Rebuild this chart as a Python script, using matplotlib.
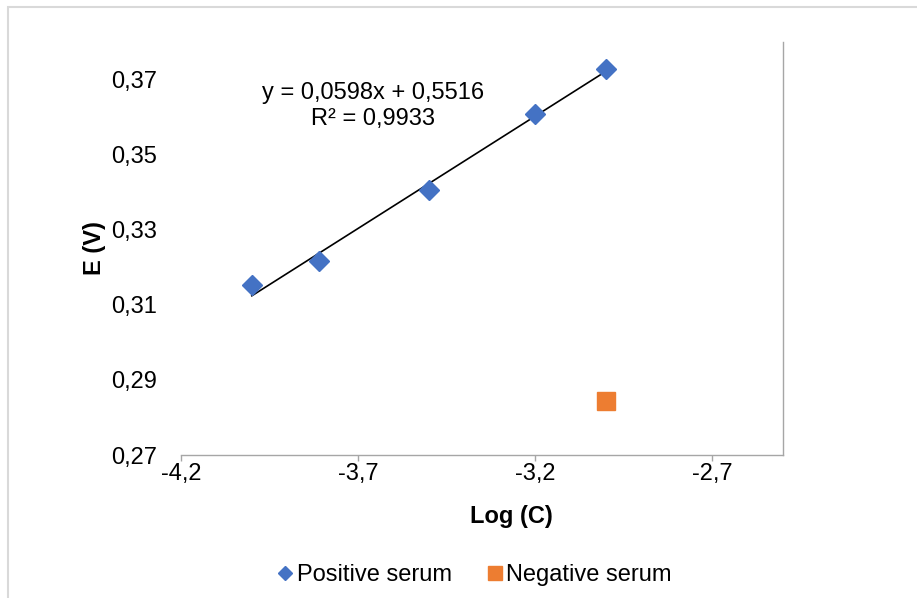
import numpy as np
import matplotlib
matplotlib.use('Agg')
import matplotlib.pyplot as plt
from matplotlib.patches import Rectangle
from matplotlib.ticker import FuncFormatter

plt.rcParams['font.family'] = ['Liberation Sans', 'DejaVu Sans']

# data
pos_logc = [-4.0, -3.81, -3.5, -3.2, -3.0]
pos_e = [0.3153, 0.3217, 0.3407, 0.3609, 0.3727]
neg_logc = [-3.0]
neg_e = [0.2843]

# trendline as printed on the chart
slope = 0.0598
intercept = 0.5516
r2 = 0.9933

xticks = [-4.2, -3.7, -3.2, -2.7]
yticks = [0.27, 0.29, 0.31, 0.33, 0.35, 0.37]

blue = '#4472C4'
orange = '#ED7D31'
fs = 17

fig = plt.figure(figsize=(9.17, 5.98), dpi=100)
ax = fig.add_axes([181/917, 1-455/598, (783-181)/917, (455-42)/598])

# outer chart border (light grey)
fig.add_artist(Rectangle((8/917, -0.05), 1.2, 1.05 - 7/598, transform=fig.transFigure,
                         fill=False, edgecolor='#d9d9d9', lw=1.5))

ax.plot(pos_logc, pos_e, ls='none', marker='D', ms=10, color=blue, label='Positive serum', zorder=3)
ax.plot(neg_logc, neg_e, ls='none', marker='s', ms=13, color=orange, label='Negative serum', zorder=3)

xfit = np.array([min(pos_logc), max(pos_logc)])
ax.plot(xfit, slope*xfit + intercept, color='black', lw=1.2, zorder=2)

eq = f'y = {slope:.4f}x + {intercept:.4f}'.replace('.', ',')
r2txt = f'R² = {r2:.4f}'.replace('.', ',')
ax.text(0.319, 0.845, eq + '\n' + r2txt, transform=ax.transAxes,
        ha='center', va='center', fontsize=fs, linespacing=1.25)

ax.set_xlim(-4.2, -2.5)
ax.set_ylim(0.27, 0.38)
ax.set_xticks(xticks)
ax.set_yticks(yticks)
ax.xaxis.set_major_formatter(FuncFormatter(lambda v, p: f'{v:.1f}'.replace('.', ',')))
ax.yaxis.set_major_formatter(FuncFormatter(lambda v, p: f'{v:.2f}'.replace('.', ',')))
ax.tick_params(axis='x', length=4.5, width=1, color='#a6a6a6', labelsize=fs, pad=1)
ax.tick_params(axis='y', length=0, labelsize=fs, pad=17)

for s in ['left', 'top']:
    ax.spines[s].set_visible(False)
ax.spines['bottom'].set_color('#a6a6a6')
ax.spines['right'].set_color('#a6a6a6')
ax.spines['bottom'].set_linewidth(1)
ax.spines['right'].set_linewidth(1)

ax.set_xlabel('Log (C)', fontsize=fs, fontweight='bold')
ax.xaxis.set_label_coords(0.548, -0.122)
ax.set_ylabel('E (V)', fontsize=fs, fontweight='bold')
ax.yaxis.set_label_coords(-0.1245, 0.5)

leg = fig.legend(loc='center', bbox_to_anchor=(475/917, 1-575/598), ncol=2, frameon=False,
                 fontsize=fs, handlelength=0.6, handletextpad=0.2, columnspacing=1.5,
                 markerscale=0.75)

fig.savefig('out.png', dpi=100)
